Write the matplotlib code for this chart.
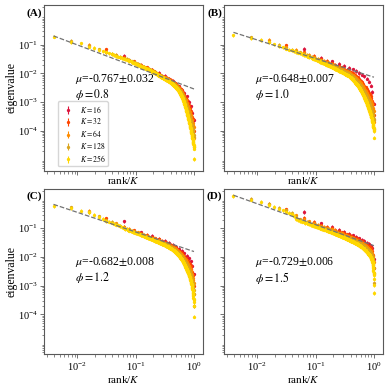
import numpy as np
import matplotlib
matplotlib.use('Agg')
import matplotlib.pyplot as plt
from matplotlib.ticker import LogLocator, FixedLocator, NullFormatter

plt.rcParams['font.family'] = ['Liberation Serif', 'DejaVu Serif']
plt.rcParams['mathtext.fontset'] = 'stix'

Ks = [16, 32, 64, 128, 256]
colors = ['crimson', 'orangered', 'darkorange', 'goldenrod', 'gold']
panel_tags = ['(A)', '(B)', '(C)', '(D)']
phis = [0.8, 1.0, 1.2, 1.5]
mus = [-0.767, -0.648, -0.682, -0.729]
mu_errs = [0.032, 0.007, 0.008, 0.006]
fit_log10_at_1 = [-2.54, -2.13, -1.81, -1.605]   # log10 of fitted power law at rank/K = 1
err_dex = 0.06                                    # half error bar, log10 units

# ---- log10(eigenvalue) for rank = 1..K ----
A_K16 = [-1.38,-1.74,-1.87,-1.99,-2.09,-2.18,-2.26,-2.35,-2.45,-2.57,-2.67,-2.80,-2.98,-3.15,-3.37,-3.62]
A_K32 = [-1.16,-1.43,-1.58,-1.71,-1.79,-1.87,-1.94,-2.02,
         -2.08,-2.12,-2.16,-2.20,-2.23,-2.28,-2.33,-2.37,
         -2.42,-2.48,-2.53,-2.60,-2.67,-2.75,-2.84,-2.93,
         -3.02,-3.11,-3.20,-3.29,-3.40,-3.50,-3.59,-4.00]
A_K64 = [-1.00,-1.24,-1.36,-1.45,-1.53,-1.60,-1.67,-1.73,
         -1.77,-1.81,-1.85,-1.89,-1.93,-1.96,-2.00,-2.04,
         -2.07,-2.10,-2.13,-2.14,-2.17,-2.19,-2.21,-2.22,
         -2.25,-2.26,-2.29,-2.31,-2.34,-2.36,-2.39,-2.41,
         -2.44,-2.47,-2.50,-2.53,-2.56,-2.59,-2.62,-2.66,
         -2.71,-2.75,-2.79,-2.84,-2.89,-2.94,-2.99,-3.04,
         -3.09,-3.14,-3.19,-3.25,-3.30,-3.35,-3.40,-3.45,
         -3.51,-3.57,-3.63,-3.69,-3.74,-3.80,-3.87,-4.23]
A_K128 = [-0.87,-1.05,-1.16,-1.25,-1.31,-1.37,-1.42,-1.46,
          -1.50,-1.54,-1.58,-1.61,-1.65,-1.68,-1.71,-1.74,
          -1.76,-1.78,-1.80,-1.82,-1.84,-1.86,-1.88,-1.90,
          -1.92,-1.94,-1.95,-1.97,-1.99,-2.01,-2.03,-2.05,
          -2.07,-2.08,-2.10,-2.11,-2.12,-2.14,-2.15,-2.16,
          -2.17,-2.18,-2.19,-2.20,-2.21,-2.22,-2.23,-2.24,
          -2.25,-2.26,-2.27,-2.28,-2.30,-2.31,-2.32,-2.34,
          -2.35,-2.36,-2.38,-2.39,-2.40,-2.42,-2.43,-2.45,
          -2.46,-2.48,-2.49,-2.51,-2.52,-2.54,-2.56,-2.58,
          -2.59,-2.61,-2.64,-2.65,-2.67,-2.68,-2.71,-2.73,
          -2.76,-2.78,-2.80,-2.83,-2.86,-2.88,-2.91,-2.93,
          -2.96,-2.99,-3.02,-3.05,-3.08,-3.11,-3.15,-3.17,
          -3.20,-3.23,-3.26,-3.29,-3.32,-3.35,-3.38,-3.41,
          -3.44,-3.47,-3.50,-3.53,-3.56,-3.59,-3.62,-3.65,
          -3.68,-3.71,-3.75,-3.78,-3.81,-3.85,-3.88,-3.92,
          -3.95,-3.98,-4.02,-4.06,-4.10,-4.15,-4.22,-4.57]
A_K256 = [-0.72,-0.91,-0.95,-1.07,-1.12,-1.18,-1.23,-1.27,-1.30,-1.33,-1.36,-1.39,-1.41,-1.44,-1.46,-1.48,
          -1.50,-1.52,-1.54,-1.56,-1.58,-1.60,-1.62,-1.63,-1.65,-1.67,-1.68,-1.70,-1.71,-1.73,-1.74,-1.76,
          -1.77,-1.78,-1.79,-1.80,-1.81,-1.82,-1.83,-1.84,-1.85,-1.86,-1.87,-1.88,-1.89,-1.90,-1.91,-1.92,
          -1.93,-1.94,-1.95,-1.96,-1.97,-1.97,-1.98,-1.99,-2.00,-2.01,-2.02,-2.03,-2.04,-2.05,-2.06,-2.07,
          -2.08,-2.09,-2.09,-2.10,-2.11,-2.12,-2.12,-2.13,-2.14,-2.14,-2.15,-2.16,-2.16,-2.17,-2.18,-2.18,
          -2.19,-2.19,-2.20,-2.21,-2.21,-2.22,-2.22,-2.23,-2.23,-2.24,-2.24,-2.25,-2.25,-2.26,-2.26,-2.27,
          -2.28,-2.28,-2.29,-2.30,-2.30,-2.31,-2.32,-2.32,-2.33,-2.34,-2.34,-2.35,-2.36,-2.36,-2.37,-2.38,
          -2.39,-2.39,-2.40,-2.41,-2.42,-2.42,-2.43,-2.44,-2.45,-2.45,-2.46,-2.47,-2.48,-2.48,-2.49,-2.50,
          -2.51,-2.52,-2.53,-2.54,-2.55,-2.55,-2.56,-2.57,-2.58,-2.59,-2.60,-2.61,-2.62,-2.63,-2.64,-2.65,
          -2.66,-2.67,-2.68,-2.69,-2.71,-2.72,-2.73,-2.74,-2.75,-2.76,-2.77,-2.78,-2.80,-2.81,-2.82,-2.83,
          -2.84,-2.86,-2.87,-2.89,-2.90,-2.91,-2.93,-2.94,-2.96,-2.97,-2.99,-3.00,-3.02,-3.03,-3.05,-3.06,
          -3.08,-3.10,-3.11,-3.13,-3.15,-3.17,-3.18,-3.20,-3.22,-3.24,-3.25,-3.27,-3.29,-3.31,-3.32,-3.34,
          -3.36,-3.38,-3.39,-3.41,-3.43,-3.45,-3.46,-3.48,-3.50,-3.52,-3.53,-3.55,-3.57,-3.59,-3.60,-3.62,
          -3.64,-3.66,-3.67,-3.69,-3.71,-3.73,-3.75,-3.76,-3.78,-3.80,-3.82,-3.84,-3.85,-3.87,-3.89,-3.91,
          -3.93,-3.95,-3.97,-3.99,-4.01,-4.03,-4.05,-4.07,-4.09,-4.11,-4.13,-4.15,-4.17,-4.19,-4.21,-4.23,
          -4.25,-4.27,-4.29,-4.31,-4.33,-4.35,-4.37,-4.39,-4.41,-4.43,-4.45,-4.48,-4.51,-4.55,-4.62,-4.97]

B_K16 = [-1.15,-1.45,-1.58,-1.67,-1.74,-1.80,-1.86,-1.92,-1.98,-2.04,-2.10,-2.18,-2.28,-2.42,-2.65,-3.05]
B_K32 = [-1.02,-1.26,-1.39,-1.50,-1.57,-1.64,-1.69,-1.75,
         -1.79,-1.83,-1.87,-1.90,-1.96,-2.00,-2.05,-2.10,
         -2.14,-2.20,-2.25,-2.31,-2.36,-2.43,-2.48,-2.55,
         -2.61,-2.67,-2.73,-2.80,-2.87,-2.95,-3.05,-3.45]
B_K64 = [-0.84,-1.08,-1.17,-1.29,-1.36,-1.42,-1.48,-1.53,
         -1.57,-1.61,-1.64,-1.68,-1.71,-1.74,-1.77,-1.79,
         -1.81,-1.84,-1.85,-1.88,-1.90,-1.92,-1.94,-1.96,
         -1.99,-2.02,-2.04,-2.06,-2.10,-2.12,-2.15,-2.17,
         -2.20,-2.22,-2.25,-2.28,-2.31,-2.34,-2.37,-2.41,
         -2.44,-2.47,-2.51,-2.54,-2.57,-2.60,-2.64,-2.68,
         -2.70,-2.75,-2.78,-2.82,-2.85,-2.89,-2.92,-2.96,
         -3.00,-3.04,-3.08,-3.14,-3.19,-3.25,-3.31,-3.70]
B_K128 = [-0.74,-0.89,-1.01,-1.11,-1.17,-1.23,-1.27,-1.32,
          -1.35,-1.39,-1.42,-1.45,-1.48,-1.51,-1.54,-1.57,
          -1.58,-1.60,-1.62,-1.65,-1.67,-1.68,-1.70,-1.72,
          -1.73,-1.75,-1.76,-1.78,-1.79,-1.81,-1.82,-1.84,
          -1.85,-1.86,-1.88,-1.89,-1.90,-1.91,-1.93,-1.94,
          -1.95,-1.96,-1.97,-1.98,-1.99,-2.00,-2.01,-2.02,
          -2.04,-2.06,-2.07,-2.08,-2.09,-2.11,-2.12,-2.14,
          -2.15,-2.17,-2.18,-2.20,-2.21,-2.23,-2.24,-2.26,
          -2.28,-2.29,-2.30,-2.31,-2.33,-2.35,-2.36,-2.38,
          -2.40,-2.41,-2.43,-2.45,-2.47,-2.49,-2.51,-2.53,
          -2.54,-2.56,-2.58,-2.60,-2.62,-2.63,-2.66,-2.67,
          -2.69,-2.71,-2.73,-2.75,-2.77,-2.79,-2.81,-2.83,
          -2.85,-2.87,-2.89,-2.92,-2.94,-2.95,-2.98,-3.00,
          -3.01,-3.04,-3.06,-3.08,-3.10,-3.12,-3.14,-3.16,
          -3.18,-3.21,-3.23,-3.26,-3.29,-3.31,-3.34,-3.37,
          -3.40,-3.43,-3.47,-3.50,-3.54,-3.58,-3.63,-3.95]
B_K256 = [-0.67,-0.78,-0.84,-0.92,-0.99,-1.04,-1.09,-1.14,-1.17,-1.20,-1.23,-1.26,-1.28,-1.30,-1.33,-1.35,
          -1.37,-1.39,-1.41,-1.43,-1.44,-1.46,-1.48,-1.49,-1.51,-1.52,-1.54,-1.55,-1.57,-1.58,-1.60,-1.61,
          -1.62,-1.63,-1.64,-1.65,-1.66,-1.67,-1.69,-1.70,-1.71,-1.72,-1.73,-1.73,-1.74,-1.75,-1.76,-1.77,
          -1.78,-1.79,-1.80,-1.81,-1.81,-1.82,-1.83,-1.84,-1.85,-1.85,-1.86,-1.87,-1.88,-1.88,-1.89,-1.90,
          -1.91,-1.91,-1.92,-1.92,-1.93,-1.94,-1.94,-1.95,-1.96,-1.96,-1.97,-1.97,-1.98,-1.99,-1.99,-2.00,
          -2.01,-2.01,-2.02,-2.02,-2.03,-2.04,-2.04,-2.05,-2.05,-2.06,-2.06,-2.07,-2.07,-2.08,-2.08,-2.09,
          -2.10,-2.11,-2.12,-2.13,-2.13,-2.14,-2.15,-2.16,-2.17,-2.17,-2.18,-2.19,-2.20,-2.20,-2.21,-2.22,
          -2.23,-2.24,-2.25,-2.26,-2.26,-2.27,-2.28,-2.29,-2.30,-2.31,-2.32,-2.33,-2.33,-2.34,-2.35,-2.36,
          -2.37,-2.38,-2.38,-2.39,-2.40,-2.40,-2.41,-2.42,-2.43,-2.44,-2.45,-2.46,-2.47,-2.48,-2.49,-2.50,
          -2.51,-2.52,-2.53,-2.54,-2.55,-2.56,-2.57,-2.58,-2.59,-2.60,-2.61,-2.62,-2.64,-2.65,-2.66,-2.67,
          -2.68,-2.69,-2.70,-2.71,-2.72,-2.73,-2.74,-2.75,-2.76,-2.77,-2.78,-2.79,-2.80,-2.82,-2.83,-2.84,
          -2.85,-2.86,-2.87,-2.88,-2.89,-2.91,-2.92,-2.93,-2.94,-2.95,-2.97,-2.98,-2.99,-3.00,-3.01,-3.03,
          -3.04,-3.05,-3.06,-3.07,-3.09,-3.10,-3.11,-3.13,-3.14,-3.15,-3.16,-3.17,-3.18,-3.20,-3.21,-3.22,
          -3.23,-3.24,-3.26,-3.27,-3.28,-3.29,-3.30,-3.32,-3.33,-3.34,-3.35,-3.36,-3.38,-3.39,-3.40,-3.42,
          -3.43,-3.44,-3.46,-3.47,-3.48,-3.50,-3.51,-3.53,-3.54,-3.56,-3.57,-3.59,-3.61,-3.62,-3.64,-3.66,
          -3.68,-3.70,-3.72,-3.74,-3.76,-3.78,-3.80,-3.82,-3.84,-3.86,-3.88,-3.90,-3.93,-3.96,-4.00,-4.23]

C_K16 = [-0.76,-1.14,-1.27,-1.36,-1.44,-1.50,-1.57,-1.64,-1.71,-1.78,-1.87,-1.97,-2.05,-2.15,-2.30,-2.60]
C_K32 = [-0.66,-0.94,-1.07,-1.16,-1.24,-1.30,-1.35,-1.39,
         -1.44,-1.48,-1.51,-1.54,-1.59,-1.62,-1.66,-1.70,
         -1.74,-1.78,-1.83,-1.87,-1.92,-1.98,-2.04,-2.09,
         -2.14,-2.20,-2.26,-2.33,-2.41,-2.51,-2.64,-3.00]
C_K64 = [-0.40,-0.70,-0.83,-0.96,-1.03,-1.09,-1.14,-1.19,
         -1.22,-1.26,-1.29,-1.33,-1.35,-1.38,-1.40,-1.42,
         -1.44,-1.47,-1.49,-1.51,-1.53,-1.54,-1.56,-1.58,
         -1.60,-1.62,-1.64,-1.66,-1.67,-1.70,-1.72,-1.75,
         -1.77,-1.79,-1.81,-1.83,-1.85,-1.89,-1.91,-1.93,
         -1.96,-1.99,-2.02,-2.05,-2.08,-2.12,-2.15,-2.18,
         -2.21,-2.24,-2.27,-2.31,-2.33,-2.37,-2.41,-2.45,
         -2.49,-2.55,-2.60,-2.66,-2.73,-2.81,-2.91,-3.30]
C_K128 = [-0.27,-0.43,-0.59,-0.72,-0.78,-0.85,-0.91,-0.98,
          -1.02,-1.06,-1.09,-1.12,-1.15,-1.17,-1.19,-1.21,
          -1.23,-1.25,-1.27,-1.29,-1.31,-1.32,-1.34,-1.36,
          -1.37,-1.38,-1.40,-1.41,-1.42,-1.44,-1.45,-1.46,
          -1.47,-1.48,-1.49,-1.50,-1.51,-1.52,-1.53,-1.54,
          -1.55,-1.56,-1.57,-1.58,-1.59,-1.60,-1.61,-1.62,
          -1.63,-1.64,-1.64,-1.66,-1.67,-1.68,-1.69,-1.70,
          -1.71,-1.72,-1.73,-1.74,-1.75,-1.77,-1.78,-1.80,
          -1.81,-1.82,-1.83,-1.85,-1.86,-1.87,-1.88,-1.89,
          -1.91,-1.92,-1.94,-1.95,-1.96,-1.98,-1.99,-2.01,
          -2.02,-2.04,-2.06,-2.08,-2.09,-2.11,-2.13,-2.15,
          -2.16,-2.18,-2.20,-2.22,-2.24,-2.26,-2.27,-2.29,
          -2.31,-2.33,-2.35,-2.36,-2.38,-2.40,-2.41,-2.44,
          -2.45,-2.47,-2.49,-2.51,-2.54,-2.56,-2.58,-2.61,
          -2.63,-2.66,-2.68,-2.72,-2.75,-2.78,-2.82,-2.85,
          -2.89,-2.93,-2.98,-3.03,-3.09,-3.16,-3.28,-3.70]
C_K256 = [-0.23,-0.30,-0.40,-0.45,-0.54,-0.61,-0.67,-0.74,-0.77,-0.80,-0.84,-0.87,-0.90,-0.93,-0.97,-1.00,
          -1.02,-1.04,-1.06,-1.08,-1.10,-1.11,-1.13,-1.14,-1.15,-1.17,-1.18,-1.19,-1.20,-1.21,-1.23,-1.24,
          -1.25,-1.26,-1.27,-1.28,-1.29,-1.30,-1.31,-1.32,-1.33,-1.34,-1.35,-1.35,-1.36,-1.37,-1.38,-1.39,
          -1.39,-1.40,-1.41,-1.41,-1.42,-1.43,-1.43,-1.44,-1.45,-1.45,-1.46,-1.47,-1.47,-1.48,-1.48,-1.49,
          -1.50,-1.50,-1.51,-1.51,-1.52,-1.53,-1.53,-1.54,-1.54,-1.55,-1.55,-1.56,-1.56,-1.57,-1.57,-1.58,
          -1.58,-1.59,-1.59,-1.60,-1.60,-1.61,-1.61,-1.62,-1.62,-1.63,-1.63,-1.64,-1.64,-1.65,-1.65,-1.66,
          -1.67,-1.67,-1.68,-1.68,-1.69,-1.69,-1.70,-1.71,-1.71,-1.72,-1.72,-1.73,-1.73,-1.74,-1.74,-1.75,
          -1.76,-1.76,-1.77,-1.77,-1.78,-1.79,-1.79,-1.80,-1.81,-1.81,-1.82,-1.83,-1.83,-1.84,-1.85,-1.86,
          -1.86,-1.87,-1.88,-1.89,-1.89,-1.90,-1.91,-1.92,-1.92,-1.93,-1.94,-1.94,-1.95,-1.96,-1.96,-1.97,
          -1.98,-1.99,-2.00,-2.00,-2.01,-2.02,-2.03,-2.04,-2.05,-2.05,-2.06,-2.07,-2.08,-2.08,-2.09,-2.10,
          -2.11,-2.12,-2.13,-2.14,-2.15,-2.16,-2.17,-2.18,-2.19,-2.20,-2.21,-2.22,-2.23,-2.24,-2.25,-2.26,
          -2.27,-2.28,-2.29,-2.30,-2.31,-2.32,-2.34,-2.35,-2.36,-2.37,-2.38,-2.39,-2.40,-2.41,-2.42,-2.43,
          -2.44,-2.45,-2.46,-2.47,-2.48,-2.49,-2.50,-2.51,-2.52,-2.53,-2.54,-2.55,-2.56,-2.57,-2.59,-2.60,
          -2.61,-2.62,-2.63,-2.64,-2.65,-2.66,-2.68,-2.69,-2.70,-2.72,-2.73,-2.74,-2.76,-2.77,-2.79,-2.80,
          -2.82,-2.83,-2.85,-2.86,-2.88,-2.89,-2.91,-2.93,-2.95,-2.97,-2.99,-3.01,-3.03,-3.05,-3.07,-3.09,
          -3.11,-3.14,-3.16,-3.19,-3.21,-3.24,-3.27,-3.30,-3.33,-3.37,-3.41,-3.45,-3.51,-3.58,-3.70,-4.08]

D_K16 = [-0.44,-0.83,-0.95,-1.06,-1.13,-1.20,-1.25,-1.30,-1.35,-1.40,-1.45,-1.50,-1.55,-1.60,-1.69,-2.08]
D_K32 = [-0.34,-0.65,-0.78,-0.87,-0.94,-0.99,-1.05,-1.10,
         -1.14,-1.17,-1.21,-1.24,-1.27,-1.30,-1.33,-1.35,
         -1.38,-1.40,-1.43,-1.45,-1.48,-1.51,-1.54,-1.57,
         -1.60,-1.63,-1.66,-1.70,-1.74,-1.80,-1.93,-2.40]
D_K64 = [-0.14,-0.35,-0.55,-0.69,-0.76,-0.82,-0.87,-0.91,
         -0.95,-0.98,-1.01,-1.04,-1.07,-1.10,-1.12,-1.15,
         -1.16,-1.18,-1.20,-1.22,-1.24,-1.26,-1.28,-1.30,
         -1.31,-1.32,-1.34,-1.35,-1.37,-1.38,-1.40,-1.41,
         -1.42,-1.43,-1.45,-1.46,-1.47,-1.49,-1.50,-1.51,
         -1.53,-1.55,-1.56,-1.58,-1.59,-1.61,-1.62,-1.64,
         -1.66,-1.67,-1.69,-1.71,-1.72,-1.74,-1.76,-1.78,
         -1.80,-1.83,-1.86,-1.90,-1.96,-2.05,-2.19,-2.60]
D_K128 = [0.03,-0.16,-0.28,-0.38,-0.46,-0.62,-0.69,-0.74,
          -0.78,-0.81,-0.84,-0.87,-0.89,-0.92,-0.94,-0.96,
          -0.98,-1.00,-1.01,-1.03,-1.04,-1.06,-1.07,-1.09,
          -1.10,-1.12,-1.13,-1.15,-1.16,-1.17,-1.18,-1.20,
          -1.21,-1.22,-1.23,-1.24,-1.25,-1.26,-1.27,-1.28,
          -1.29,-1.29,-1.30,-1.31,-1.32,-1.33,-1.34,-1.35,
          -1.36,-1.36,-1.37,-1.38,-1.39,-1.40,-1.40,-1.41,
          -1.42,-1.43,-1.44,-1.45,-1.45,-1.46,-1.47,-1.47,
          -1.48,-1.48,-1.49,-1.49,-1.50,-1.51,-1.51,-1.52,
          -1.53,-1.54,-1.54,-1.55,-1.56,-1.57,-1.57,-1.58,
          -1.59,-1.59,-1.60,-1.61,-1.62,-1.63,-1.64,-1.65,
          -1.66,-1.66,-1.67,-1.68,-1.69,-1.70,-1.71,-1.72,
          -1.73,-1.74,-1.75,-1.76,-1.77,-1.77,-1.78,-1.79,
          -1.80,-1.82,-1.83,-1.84,-1.85,-1.86,-1.87,-1.88,
          -1.89,-1.90,-1.92,-1.94,-1.96,-1.97,-1.99,-2.01,
          -2.05,-2.09,-2.14,-2.21,-2.28,-2.37,-2.55,-2.90]
D_K256 = [0.12,0.00,-0.08,-0.20,-0.26,-0.32,-0.38,-0.42,-0.46,-0.50,-0.58,-0.67,-0.71,-0.74,-0.77,-0.79,
          -0.81,-0.83,-0.84,-0.86,-0.88,-0.89,-0.91,-0.92,-0.93,-0.94,-0.96,-0.97,-0.98,-0.99,-1.00,-1.01,
          -1.02,-1.03,-1.04,-1.05,-1.05,-1.06,-1.07,-1.08,-1.09,-1.09,-1.10,-1.11,-1.12,-1.12,-1.13,-1.14,
          -1.15,-1.15,-1.16,-1.17,-1.17,-1.18,-1.19,-1.20,-1.20,-1.21,-1.22,-1.22,-1.23,-1.23,-1.24,-1.25,
          -1.25,-1.26,-1.26,-1.27,-1.27,-1.28,-1.28,-1.29,-1.29,-1.30,-1.30,-1.31,-1.31,-1.32,-1.32,-1.33,
          -1.33,-1.34,-1.34,-1.35,-1.35,-1.36,-1.36,-1.37,-1.37,-1.38,-1.38,-1.39,-1.39,-1.40,-1.40,-1.41,
          -1.41,-1.42,-1.42,-1.42,-1.43,-1.43,-1.44,-1.44,-1.44,-1.45,-1.45,-1.46,-1.46,-1.46,-1.47,-1.47,
          -1.47,-1.48,-1.48,-1.49,-1.49,-1.49,-1.50,-1.50,-1.50,-1.51,-1.51,-1.52,-1.52,-1.52,-1.53,-1.53,
          -1.53,-1.54,-1.54,-1.55,-1.55,-1.55,-1.56,-1.56,-1.56,-1.57,-1.57,-1.58,-1.58,-1.58,-1.59,-1.59,
          -1.59,-1.60,-1.60,-1.61,-1.61,-1.61,-1.62,-1.62,-1.62,-1.63,-1.63,-1.64,-1.64,-1.64,-1.65,-1.65,
          -1.66,-1.66,-1.67,-1.67,-1.68,-1.68,-1.69,-1.69,-1.70,-1.70,-1.71,-1.71,-1.72,-1.72,-1.73,-1.73,
          -1.74,-1.74,-1.75,-1.75,-1.76,-1.76,-1.77,-1.77,-1.78,-1.78,-1.79,-1.79,-1.80,-1.80,-1.81,-1.81,
          -1.82,-1.82,-1.83,-1.83,-1.84,-1.84,-1.85,-1.85,-1.86,-1.86,-1.87,-1.87,-1.88,-1.88,-1.89,-1.89,
          -1.90,-1.90,-1.91,-1.92,-1.92,-1.93,-1.93,-1.94,-1.95,-1.95,-1.96,-1.96,-1.97,-1.98,-1.98,-1.99,
          -2.00,-2.01,-2.01,-2.02,-2.03,-2.04,-2.05,-2.06,-2.07,-2.08,-2.09,-2.10,-2.11,-2.12,-2.14,-2.15,
          -2.17,-2.19,-2.21,-2.23,-2.26,-2.29,-2.32,-2.36,-2.40,-2.44,-2.49,-2.55,-2.64,-2.75,-2.98,-3.25]

panel_series = [
    [A_K16, A_K32, A_K64, A_K128, A_K256],
    [B_K16, B_K32, B_K64, B_K128, B_K256],
    [C_K16, C_K32, C_K64, C_K128, C_K256],
    [D_K16, D_K32, D_K64, D_K128, D_K256],
]
for p, ser in enumerate(panel_series):
    for K, v in zip(Ks, ser):
        assert len(v) == K, (p, K, len(v))

fig, axes = plt.subplots(2, 2, figsize=(3.9, 3.9), dpi=100, sharex=True, sharey=True)
fig.subplots_adjust(left=0.113, right=0.982, top=0.987, bottom=0.092,
                    wspace=0.132, hspace=0.109)

for idx, ax in enumerate(axes.flat):
    for K, col, logs in zip(Ks, colors, panel_series[idx]):
        y = 10 ** np.asarray(logs)
        x = np.arange(1, K + 1) / K
        yerr = [y - y * 10 ** (-err_dex), y * 10 ** err_dex - y]
        ax.errorbar(x, y, yerr=yerr, fmt='o', ms=2.4, color=col, mew=0,
                    elinewidth=0.8, capsize=0, label=f'$K={K}$')
    xf = np.array([1 / 256, 1.0])
    ax.plot(xf, 10 ** fit_log10_at_1[idx] * xf ** mus[idx], '--',
            color='0.45', lw=0.9, zorder=5)
    ax.set_xscale('log')
    ax.set_yscale('log')
    ax.set_xlim(10 ** -2.57, 10 ** 0.155)
    ax.set_ylim(10 ** -5.38, 10 ** 0.38)
    ax.yaxis.set_major_locator(FixedLocator([1e-4, 1e-3, 1e-2, 1e-1]))
    ax.yaxis.set_minor_locator(LogLocator(base=10, subs=np.arange(2, 10), numticks=20))
    ax.yaxis.set_minor_formatter(NullFormatter())
    ax.xaxis.set_minor_locator(LogLocator(base=10, subs=np.arange(2, 10), numticks=20))
    ax.xaxis.set_minor_formatter(NullFormatter())
    ax.tick_params(which='major', labelsize=7.5, length=3, width=0.6, color='0.35', pad=1.5)
    ax.tick_params(which='minor', length=1.8, width=0.5, color='0.35')
    for s in ax.spines.values():
        s.set_color('0.35')
        s.set_linewidth(0.8)
    row, colp = divmod(idx, 2)
    ax.set_xlabel('rank/$K$', fontsize=8, labelpad=0.5 if row == 0 else 1)
    if row == 0:
        ax.tick_params(labelbottom=False)
    if colp == 0:
        ax.set_ylabel('eigenvalue', fontsize=8.5, labelpad=0.5)
    ax.text(0.195, 0.555, rf'$\mu$={mus[idx]:.3f}$\pm${mu_errs[idx]:.3f}',
            transform=ax.transAxes, fontsize=8.5, va='center', ha='left')
    ax.text(0.195, 0.46, rf'$\phi={phis[idx]:.1f}$',
            transform=ax.transAxes, fontsize=8.5, va='center', ha='left')
    ax.text(-0.012, 0.952, panel_tags[idx], transform=ax.transAxes,
            fontsize=8, fontweight='bold', ha='right', va='center')

axes[0, 0].legend(loc='lower left', bbox_to_anchor=(0.085, 0.025), borderaxespad=0,
                  fontsize=5.5, labelspacing=0.25, handletextpad=0.6, handleheight=0.7,
                  handlelength=2.0, borderpad=0.3, edgecolor='0.8')

fig.savefig('out.png', dpi=100)
